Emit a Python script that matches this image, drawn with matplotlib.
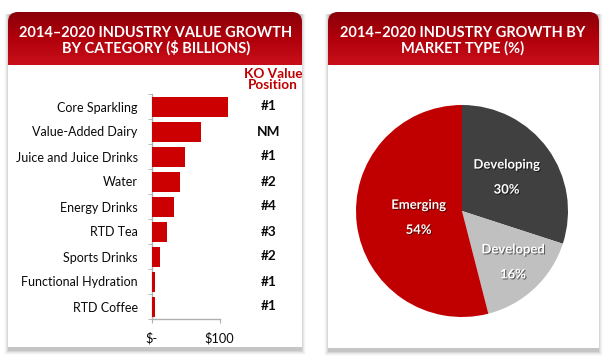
import numpy as np
import matplotlib
matplotlib.use("Agg")
import matplotlib.pyplot as plt
from matplotlib.patches import FancyBboxPatch, Rectangle
import matplotlib.transforms as mtransforms
import matplotlib.patheffects as pe
from matplotlib.colors import LinearSegmentedColormap

# ---------------- data ----------------
categories = ["Core Sparkling", "Value-Added Dairy", "Juice and Juice Drinks", "Water",
              "Energy Drinks", "RTD Tea", "Sports Drinks", "Functional Hydration", "RTD Coffee"]
growth_values = [112, 72, 48.5, 42, 33, 22, 12.5, 5, 5]
ko_position = ["#1", "NM", "#1", "#2", "#4", "#3", "#2", "#1", "#1"]
x_ticks = [0, 100]
x_tick_labels = ["\\$-", "\\$100"]

market_types = ["Developing", "Developed", "Emerging"]
market_shares = [30, 16, 54]
market_colors = ["#404040", "#c0c0c0", "#c00000"]

left_title = "2014\u20132020 INDUSTRY VALUE GROWTH\nBY CATEGORY (\\$ BILLIONS)"
right_title = "2014\u20132020 INDUSTRY GROWTH BY\nMARKET TYPE (%)"
ko_header = ["KO Value", "Position"]

FONT = ["Lato", "DejaVu Sans"]
plt.rcParams["font.family"] = FONT

W, H = 606, 358
fig = plt.figure(figsize=(W / 100, H / 100), dpi=100)
fig.patch.set_facecolor("white")

# background axes in pixel coordinates
bg = fig.add_axes([0, 0, 1, 1])
bg.set_xlim(0, W)
bg.set_ylim(H, 0)
bg.axis("off")

grad = np.linspace(0, 1, 64).reshape(-1, 1)
hdr_cmap = LinearSegmentedColormap.from_list("hdr", ["#8a0008", "#b0000c", "#c8101a"])

def panel(x0, x1, y0, y1, hdr_bottom):
    for i, a in enumerate([0.12, 0.09, 0.06, 0.04, 0.02]):
        d = i + 1
        bg.add_patch(Rectangle((x0 - d + 1, y0 + 2), (x1 - x0) + 2 * d - 2, (y1 - y0) + d + 1,
                               facecolor="#404040", alpha=a, edgecolor="none", zorder=1))
    bg.add_patch(Rectangle((x0, hdr_bottom), x1 - x0, y1 - hdr_bottom,
                           facecolor="white", edgecolor="none", zorder=2))
    r = 10
    hp = FancyBboxPatch((x0 + r, y0 + r), (x1 - x0) - 2 * r, (hdr_bottom - y0) + 10,
                        boxstyle=f"round,pad={r}", facecolor="none", edgecolor="none", zorder=3)
    bg.add_patch(hp)
    im = bg.imshow(grad, cmap=hdr_cmap, extent=(x0, x1, hdr_bottom, y0), aspect="auto", zorder=3)
    im.set_clip_path(hp)
    bg.add_patch(Rectangle((x0, hdr_bottom), x1 - x0, 25, facecolor="white", edgecolor="none", zorder=4))

panel(8, 302, 12, 347, 65)
panel(328, 599, 12, 348, 65)
bg.set_xlim(0, W)
bg.set_ylim(H, 0)

bg.text(156, 41, left_title, ha="center", va="center", color="white", fontsize=10.5,
        fontweight="bold", linespacing=1.05, zorder=6)
bg.text(463, 41, right_title, ha="center", va="center", color="white", fontsize=10.5,
        fontweight="bold", linespacing=1.05, zorder=6)

# ---------------- bar chart ----------------
ax = fig.add_axes([151.7 / W, 1 - 319 / H, 68 / W, 225 / H])
ax.set_zorder(5)
ax.patch.set_alpha(0)
y = np.arange(len(categories))
ax.barh(y, growth_values, height=0.8, color="#cc0000", clip_on=False, zorder=3)
ax.set_xlim(0, 100)
ax.set_ylim(len(categories) - 0.5, -0.5)
ax.set_yticks(y)
ax.set_yticklabels(categories, fontsize=9, color="#0a0a0a")
ax.set_yticks(np.arange(-0.5, len(categories), 1), minor=True)
ax.tick_params(axis="y", which="major", length=0, pad=10)
ax.tick_params(axis="y", which="minor", length=3, color="#b0b0b0", direction="out")
ax.set_xticks(x_ticks)
ax.set_xticklabels(x_tick_labels, fontsize=9.2, color="#0a0a0a")
ax.tick_params(axis="x", length=3, color="#b0b0b0", pad=6)
for s in ["top", "right"]:
    ax.spines[s].set_visible(False)
for s in ["left", "bottom"]:
    ax.spines[s].set_color("#b0b0b0")
    ax.spines[s].set_linewidth(1)

tr = mtransforms.blended_transform_factory(fig.transFigure, ax.transData)
for yi, lab in zip(y, ko_position):
    ax.text(269 / W, yi, lab, transform=tr, ha="center", va="center", fontsize=9.8,
            fontweight="bold", color="#0a0a0a")
for yy, line in zip([74, 85], ko_header):
    bg.text(273, yy, line, ha="center", va="center", fontsize=9.8, fontweight="bold",
            color="#c00000", zorder=6)

# ---------------- pie chart ----------------
R = 106
pax = fig.add_axes([(462 - R) / W, 1 - (211 + R) / H, 2 * R / W, 2 * R / H])
pax.set_zorder(5)
wedges, _ = pax.pie(market_shares, colors=market_colors, startangle=90, counterclock=False,
                    radius=1, wedgeprops=dict(linewidth=0))
pax.set_xlim(-1, 1)
pax.set_ylim(-1, 1)

label_pos = [(0.42, 0.32), (0.48, -0.48), (-0.41, -0.06)]
shadow = [pe.withSimplePatchShadow(offset=(0.8, -0.8), shadow_rgbFace="#000000", alpha=0.5)]
for (px, py), name, val in zip(label_pos, market_types, market_shares):
    pax.text(px, py, f"{name}\n\n{val}%", ha="center", va="center", color="white",
             fontsize=9.4, fontweight="bold", linespacing=1.05, path_effects=shadow)

fig.savefig("out.png", dpi=100)
